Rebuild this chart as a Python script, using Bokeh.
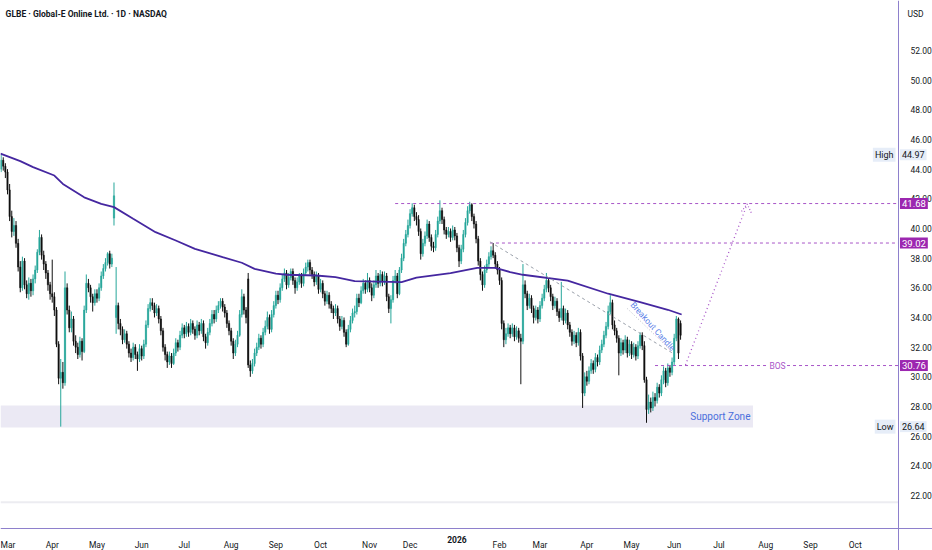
from bokeh.plotting import figure
from bokeh.models import Range1d, FixedTicker, NumeralTickFormatter, Label, BoxAnnotation, ColumnDataSource
from bokeh.embed import file_html
from bokeh.resources import INLINE

TITLE = "GLBE \u00b7 Global-E Online Ltd. \u00b7 1D \u00b7 NASDAQ"
START_IDX = -3
FIRST_OPEN = 44.0

close = [
    44.6, 44.2, 43.8,
    42.6, 40.8, 39.8, 40.2, 39.0, 37.4, 36.0, 37.8, 36.2, 35.6,
    36.3, 35.8, 36.6, 37.2, 38.4, 39.4, 38.2, 37.6, 37.0, 36.2,
    35.6, 35.4, 34.5, 32.2, 29.9, 30.3, 29.6, 36.0, 34.5, 33.3,
    33.9, 32.4, 32.0, 31.5, 32.4, 31.7, 34.5, 36.3, 36.0, 35.4,
    35.0, 35.6, 35.3, 36.0, 36.8, 37.3, 37.7, 38.3, 37.6, 38.0,
    42.2, 34.8, 33.6, 33.2, 32.5, 32.9, 32.2, 31.6, 31.3, 32.0,
    31.5, 31.2, 31.9, 31.4, 32.2, 33.5, 34.6, 35.0, 34.8, 34.3,
    34.6, 33.9, 33.1, 32.0, 31.5, 31.0, 31.4, 30.9, 31.6, 32.3,
    32.0, 32.8, 33.3, 32.9, 33.4, 33.0, 33.6, 33.2, 32.8, 33.5,
    33.1, 33.6, 32.7, 32.3, 33.0, 33.6, 34.2, 33.9, 34.5, 34.8,
    35.1, 34.7, 34.3, 33.6, 33.1, 32.4, 31.6, 32.2, 32.8, 34.2,
    35.4, 34.5, 34.0, 30.8, 30.4, 30.9, 31.6, 32.0, 32.6, 32.2,
    33.0, 33.4, 34.0, 33.2, 34.2, 34.8, 35.5, 35.2, 36.0, 36.6,
    37.0, 36.2, 36.7, 37.1, 36.5, 36.0, 36.4, 36.8, 36.3, 37.0,
    37.4, 37.7, 37.2, 36.9, 36.4, 36.8, 35.9, 36.3, 35.6, 35.1,
    35.5, 34.9, 34.6, 34.3, 34.6, 33.9, 33.4, 33.8, 33.0, 32.2,
    33.2, 33.8, 34.3, 34.4, 35.3, 35.0, 35.8, 36.3, 35.9, 36.5,
    36.0, 35.5, 36.2, 36.8, 36.3, 36.9, 36.4, 36.8, 35.4, 34.6,
    35.2, 36.5, 36.8, 35.6, 37.2, 38.0, 39.0, 39.6, 40.2, 41.0,
    41.4, 40.8, 40.6, 39.8, 38.3, 39.0, 39.5, 40.3, 39.4, 38.8,
    38.7, 39.6, 40.5, 41.2, 40.6, 39.9, 39.6, 39.8, 39.4, 39.9,
    39.5, 38.7, 37.8, 38.6, 39.6, 40.4, 41.2, 41.6, 40.8, 40.3,
    39.3, 37.8, 36.9, 36.2, 37.2, 37.6, 38.1, 38.5, 38.2, 37.6,
    37.2, 36.5, 33.6, 32.5, 32.9, 33.3, 32.9, 33.3, 32.7, 33.1,
    32.6, 32.4, 36.2, 35.6, 34.8, 35.3, 34.6, 34.0, 34.5, 33.9,
    34.8, 35.3, 35.9, 36.5, 36.0, 35.4, 34.8, 35.1, 34.4, 34.0,
    34.6, 33.8, 34.3, 33.5, 33.0, 32.4, 32.8, 32.3, 33.0, 31.4,
    28.9, 30.0, 29.7, 30.4, 30.9, 30.5, 31.3, 31.0, 31.8, 32.2,
    32.8, 33.4, 34.4, 35.0, 33.5, 33.1, 32.6, 31.6, 32.3, 31.8,
    32.5, 31.6, 32.2, 31.5, 32.0, 31.4, 32.1, 32.8, 32.1, 29.8,
    27.8, 28.3, 27.9, 28.6, 28.4, 29.3, 28.9, 29.8, 30.4, 29.6,
    30.6, 30.3, 31.0, 32.6, 33.9, 31.6, 32.8,
]

high = [
    44.97, 44.8, 44.4,
    44.0, 43.0, 41.2, 40.7, 40.5, 39.3, 37.8, 38.1, 38.0, 36.5,
    36.7, 36.6, 36.9, 37.5, 38.6, 39.9, 39.6, 38.5, 37.8, 37.2,
    36.4, 37.9, 35.7, 34.7, 32.4, 31.2, 31.0, 37.1, 36.3, 34.8,
    34.4, 34.1, 32.8, 32.3, 32.7, 32.6, 34.8, 36.9, 36.6, 36.2,
    35.6, 35.9, 35.9, 36.3, 37.1, 37.6, 38.0, 38.4, 38.5, 38.3,
    43.1, 37.4, 35.0, 33.9, 33.4, 33.2, 33.1, 32.4, 31.9, 32.3,
    32.2, 31.7, 32.2, 32.1, 32.5, 33.8, 34.9, 35.3, 35.3, 35.0,
    34.9, 34.8, 34.1, 33.3, 32.2, 31.7, 31.7, 31.6, 31.9, 32.6,
    32.5, 33.1, 33.6, 33.5, 33.7, 33.6, 33.9, 33.8, 33.4, 33.8,
    33.7, 33.9, 33.8, 32.9, 33.3, 33.9, 34.5, 34.5, 34.8, 35.1,
    35.3, 35.3, 34.9, 34.5, 33.8, 33.3, 32.6, 32.5, 33.1, 34.5,
    35.9, 35.6, 34.7, 37.0, 31.1, 31.2, 31.9, 32.3, 32.9, 32.8,
    33.3, 33.8, 34.4, 34.2, 34.5, 35.1, 35.8, 35.8, 36.3, 36.9,
    37.3, 37.2, 37.0, 37.3, 37.3, 36.7, 36.7, 37.0, 37.0, 37.3,
    37.7, 37.9, 37.9, 37.4, 37.1, 37.1, 37.0, 36.6, 36.5, 35.8,
    35.8, 35.7, 35.1, 34.8, 34.9, 34.8, 34.1, 34.1, 34.0, 33.2,
    33.5, 34.1, 34.6, 34.8, 35.6, 35.6, 36.1, 36.6, 36.5, 37.0,
    36.7, 36.3, 36.5, 37.2, 37.0, 37.2, 37.1, 37.1, 37.0, 35.6,
    35.5, 36.8, 37.2, 37.0, 37.4, 38.3, 39.3, 39.9, 40.6, 41.3,
    41.7, 41.6, 41.1, 40.9, 40.0, 39.3, 39.8, 40.6, 40.5, 39.6,
    39.1, 39.9, 40.8, 41.9, 41.4, 40.8, 40.1, 40.1, 40.0, 40.2,
    40.1, 39.7, 38.9, 38.9, 39.9, 40.7, 41.5, 41.8, 41.7, 41.0,
    40.5, 39.5, 38.0, 37.1, 37.5, 37.9, 38.4, 38.8, 39.02, 38.4,
    37.8, 37.4, 36.7, 33.8, 33.3, 33.6, 33.5, 33.6, 33.5, 33.4,
    33.3, 32.9, 37.6, 36.5, 35.8, 35.6, 35.5, 34.8, 34.8, 34.7,
    35.1, 35.6, 36.2, 37.0, 36.7, 36.2, 35.6, 35.4, 35.3, 34.6,
    36.4, 34.8, 34.6, 34.5, 33.7, 33.2, 33.1, 33.0, 33.3, 33.2,
    31.6, 30.3, 30.4, 30.7, 31.2, 31.1, 31.6, 31.5, 32.1, 32.5,
    33.1, 33.7, 34.8, 35.5, 35.2, 33.8, 33.3, 32.8, 32.6, 32.5,
    32.8, 32.7, 32.5, 32.4, 32.3, 32.2, 32.4, 33.0, 33.0, 32.4,
    30.0, 28.8, 28.6, 29.0, 28.9, 29.6, 29.5, 30.1, 30.7, 30.6,
    30.9, 30.8, 31.3, 32.9, 34.1, 34.0, 33.8,
]

low = [
    43.8, 43.9, 43.4,
    42.3, 40.5, 39.4, 39.5, 38.7, 37.1, 35.7, 35.8, 35.9, 35.3,
    35.2, 35.4, 35.5, 36.3, 37.0, 38.2, 37.9, 37.2, 36.6, 35.8,
    35.2, 35.0, 34.1, 32.0, 29.5, 26.64, 29.2, 29.4, 34.2, 33.0,
    33.0, 32.1, 31.6, 31.2, 31.3, 31.1, 31.6, 34.3, 35.7, 35.0,
    34.4, 34.8, 35.0, 35.1, 35.8, 36.6, 37.1, 37.5, 37.3, 37.4,
    40.2, 32.9, 33.2, 32.8, 32.2, 32.3, 31.9, 31.3, 31.0, 31.1,
    31.2, 30.4, 31.0, 31.1, 31.2, 32.0, 33.3, 34.4, 34.5, 34.0,
    34.1, 33.6, 32.8, 31.7, 31.1, 30.6, 30.8, 30.6, 30.8, 31.4,
    31.7, 31.8, 32.6, 32.6, 32.7, 32.7, 32.8, 32.9, 32.5, 32.6,
    32.8, 32.9, 32.4, 31.9, 32.1, 32.8, 33.4, 33.6, 33.7, 34.3,
    34.6, 34.4, 34.0, 33.3, 32.8, 32.1, 31.2, 31.4, 32.0, 32.7,
    34.0, 34.2, 33.6, 30.6, 30.0, 30.2, 30.7, 31.4, 31.8, 31.9,
    32.0, 32.8, 33.2, 32.9, 33.0, 34.0, 34.6, 34.9, 35.0, 35.8,
    36.4, 35.9, 36.0, 36.5, 36.2, 35.6, 35.8, 36.2, 36.0, 36.1,
    36.8, 37.1, 36.9, 36.6, 36.1, 36.2, 35.6, 35.7, 35.3, 34.8,
    34.9, 34.6, 34.3, 33.9, 34.1, 33.6, 33.1, 33.2, 32.7, 32.0,
    32.1, 33.0, 33.6, 34.0, 34.2, 34.7, 34.9, 35.6, 35.6, 35.7,
    35.7, 35.1, 35.3, 36.0, 36.0, 36.1, 36.1, 36.2, 35.1, 34.3,
    33.6, 35.0, 36.3, 35.3, 35.5, 37.0, 37.8, 38.8, 39.4, 40.0,
    40.8, 40.5, 40.2, 39.5, 37.9, 38.1, 38.8, 39.3, 39.1, 38.5,
    38.4, 38.5, 39.4, 40.3, 40.3, 39.6, 39.3, 39.4, 39.1, 39.2,
    39.2, 38.4, 37.4, 37.6, 38.4, 39.4, 40.2, 41.0, 40.5, 40.0,
    39.0, 37.5, 36.5, 35.8, 36.0, 37.0, 37.4, 37.9, 38.0, 37.3,
    36.9, 36.2, 33.2, 32.0, 32.2, 32.7, 32.6, 32.7, 32.4, 32.5,
    32.3, 29.5, 32.2, 35.3, 34.5, 34.6, 34.3, 33.6, 33.8, 33.6,
    33.7, 34.6, 35.1, 35.7, 35.7, 35.1, 34.5, 34.6, 34.1, 33.7,
    33.8, 33.5, 33.6, 33.2, 32.7, 32.1, 32.2, 32.0, 32.1, 31.1,
    27.9, 28.7, 29.4, 29.5, 30.2, 30.2, 30.3, 30.7, 30.8, 31.6,
    32.0, 32.6, 33.2, 34.2, 33.2, 32.8, 32.3, 30.1, 31.4, 31.5,
    31.6, 31.3, 31.4, 31.2, 31.3, 31.1, 31.2, 31.9, 31.8, 29.6,
    26.9, 27.5, 27.6, 27.7, 28.0, 28.2, 28.6, 28.7, 29.5, 29.3,
    29.4, 30.0, 30.1, 30.8, 32.4, 31.2, 32.5,
]

# opens that differ from the previous close (gaps), keyed by bar index
gap_open = {50: 40.7, 51: 34.0, 113: 36.6, 316: 33.6}

# 200-day moving average, read at points along the curve
ma_idx = [-3.3, 6, 12, 22, 26, 36, 44, 50, 59, 69.5, 79, 88, 101, 110, 116, 126, 131,
          145, 154, 163, 185, 192, 208, 220.5, 229, 236, 242, 263, 282, 297, 310, 316.5]
ma_val = [45.05, 44.54, 44.14, 43.57, 43.0, 42.1, 41.66, 41.44, 40.65, 39.75, 39.19, 38.63,
          38.07, 37.69, 37.28, 36.95, 36.88, 36.83, 36.72, 36.45, 36.38, 36.68, 36.99, 37.35,
          37.35, 37.06, 36.88, 36.49, 35.6, 35.03, 34.52, 34.2]

month_idx = [0, 21, 42, 63, 83, 105, 126, 147, 170, 189, 211, 231, 250, 272, 293, 313, 334, 356, 377, 398]
month_lbl = ["Mar", "Apr", "May", "Jun", "Jul", "Aug", "Sep", "Oct", "Nov", "Dec", "2026",
             "Feb", "Mar", "Apr", "May", "Jun", "Jul", "Aug", "Sep", "Oct"]
price_ticks = [22, 24, 26, 28, 30, 32, 34, 36, 38, 40, 42, 44, 46, 48, 50, 52]

level_vals = [41.68, 39.02, 30.76]
level_start = [182, 226.5, 304]
level_text = ["41.68", "39.02", "30.76"]
high_val, low_val = 44.97, 26.64
zone_lo, zone_hi, zone_end = 26.58, 28.07, 350
trend_x, trend_y = [226.5, 312.2], [39.1, 31.6]
ptr_x, ptr_y = [291, 311.3], [34.6, 31.8]
proj_x, proj_y = [318.3, 347.3], [30.8, 41.65]
arrow_x, arrow_y = [344.6, 347.3, 349.2], [41.15, 41.65, 41.05]
sep_price = 21.55

# view: whole canvas is the frame; axes sit at fixed positions inside it
X0, X1 = -3.286, 434.27
Y0, Y1 = 18.29, 55.37
AXIS_X = 418.31      # price-scale border
AXIS_Y = 19.775      # time-scale border
UP, DOWN = "#26a69a", "#111111"
PURPLE_LINE = "#a855c8"
PURPLE_BOX = "#9c27b0"
BORDER = "#8e80cc"
FONT = "Roboto"
TXT = "#131722"

opens, tops, bots, cols = [], [], [], []
prev = FIRST_OPEN
xs = [START_IDX + i for i in range(len(close))]
for x, c in zip(xs, close):
    o = gap_open.get(x, prev)
    opens.append(o)
    tops.append(max(o, c))
    bots.append(min(o, c))
    cols.append(UP if c >= o else DOWN)
    prev = c
src = ColumnDataSource(dict(x=xs, top=tops, bot=bots, hi=high, lo=low, col=cols))

p = figure(width=932, height=550, x_range=Range1d(X0, X1), y_range=Range1d(Y0, Y1),
           output_backend="svg", toolbar_location=None, y_axis_location="right",
           x_axis_location="below", min_border=0)
p.outline_line_color = None
p.xgrid.visible = False
p.ygrid.visible = False
p.background_fill_color = "white"

xa = p.xaxis[0]
xa.fixed_location = AXIS_Y
xa.ticker = FixedTicker(ticks=month_idx)
xa.major_label_overrides = {m: ("" if l == "2026" else l) for m, l in zip(month_idx, month_lbl)}
xa.axis_line_color = BORDER
xa.major_tick_line_color = None
xa.minor_tick_line_color = None
xa.major_label_text_font = FONT
xa.major_label_text_font_size = "8.5px"
xa.major_label_text_color = TXT
xa.major_label_standoff = 6

ya = p.yaxis[0]
ya.fixed_location = AXIS_X
ya.ticker = FixedTicker(ticks=price_ticks)
ya.formatter = NumeralTickFormatter(format="0.00")
ya.axis_line_color = BORDER
ya.major_tick_line_color = None
ya.minor_tick_line_color = None
ya.major_label_text_font = FONT
ya.major_label_text_font_size = "8.5px"
ya.major_label_text_color = TXT
ya.major_label_standoff = 6

p.segment(x0=[X0], y0=[sep_price], x1=[AXIS_X], y1=[sep_price], line_color="#ececf1", line_width=2)
p.add_layout(BoxAnnotation(right=zone_end, bottom=zone_lo, top=zone_hi, fill_color="#ebe9f4",
                           fill_alpha=1.0, line_color=None, level="underlay"))

p.segment(x0="x", y0="lo", x1="x", y1="hi", color="col", line_width=1, source=src)
p.vbar(x="x", width=0.62, top="top", bottom="bot", fill_color="col", line_color="col",
       line_width=0.5, source=src)

p.line(ma_idx, ma_val, line_color="#4527a0", line_width=1.8)

p.segment(x0=level_start, y0=level_vals, x1=[AXIS_X] * len(level_vals), y1=level_vals,
          line_color=PURPLE_LINE, line_width=1, line_dash="3 3")
p.line(trend_x, trend_y, line_color="#9aa0aa", line_width=1, line_dash="3 3")
p.line(ptr_x, ptr_y, line_color="#b8bcc6", line_width=1, line_dash="1 2")
p.line(proj_x, proj_y, line_color=PURPLE_LINE, line_width=1.3, line_dash="1 3")
p.line(arrow_x, arrow_y, line_color=PURPLE_LINE, line_width=1.2, line_dash="1 2")

p.add_layout(Label(x=-0.9, y=54.49, text=TITLE, text_font=FONT, text_font_size="8.5px",
                   text_font_style="bold", text_color=TXT, text_baseline="middle"))
p.add_layout(Label(x=422.5, y=54.49, text="USD", text_font=FONT, text_font_size="8.5px",
                   text_color=TXT, text_baseline="middle"))
p.add_layout(Label(x=361.5, y=level_vals[2], text="BOS", text_font=FONT, text_font_size="8.5px",
                   text_color=PURPLE_LINE, text_baseline="middle", text_align="center",
                   background_fill_color="white", padding=1))
p.add_layout(Label(x=303.0, y=33.4, text="Breakout Candle", text_font=FONT, text_font_size="8.5px",
                   text_color="#5b7fe8", text_baseline="middle", text_align="center",
                   angle=-0.84, angle_units="rad"))
p.add_layout(Label(x=348.8, y=27.3, text="Support Zone", text_font=FONT, text_font_size="10px",
                   text_color="#4a6fdc", text_baseline="middle", text_align="right"))
p.add_layout(Label(x=211, y=19.03, text="2026", text_font=FONT, text_font_size="8.5px",
                   text_font_style="bold", text_color=TXT, text_baseline="middle",
                   text_align="center"))

for v, t in zip(level_vals, level_text):
    p.add_layout(Label(x=419.0, y=v, text=t, text_font=FONT, text_font_size="9.5px",
                       text_color="white", text_baseline="middle", text_align="left",
                       background_fill_color=PURPLE_BOX, padding=2))
for v, name in ((high_val, "High"), (low_val, "Low")):
    p.add_layout(Label(x=419.0, y=v, text=f"{v:.2f}", text_font=FONT, text_font_size="9px",
                       text_color=TXT, text_baseline="middle", text_align="left",
                       background_fill_color="#e6edf8", padding=2))
    p.add_layout(Label(x=416.9, y=v, text=name, text_font=FONT, text_font_size="9px",
                       text_color=TXT, text_baseline="middle", text_align="right",
                       background_fill_color="#e6edf8", padding=2))

open("out.html", "w").write(file_html(p, INLINE))
